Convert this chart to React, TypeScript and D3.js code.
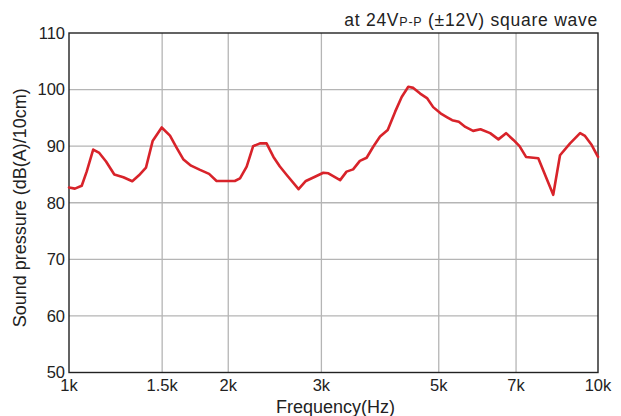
import React from "react";
import * as d3 from "d3";

const freqs = [
  1000, 1026, 1057, 1080, 1111, 1141, 1175, 1218, 1267, 1317, 1356, 1398, 1439, 1497,
  1552, 1598, 1644, 1701, 1769, 1840, 1901, 2058, 2105, 2167, 2229, 2296, 2363, 2435,
  2504, 2580, 2716, 2804, 2917, 3025, 3093, 3255, 3347, 3444, 3547, 3653, 3759, 3873,
  4004, 4136, 4255, 4379, 4476, 4611, 4750, 4880, 5039, 5187, 5301, 5456, 5614, 5806,
  5996, 6253, 6483, 6702, 6920, 7106, 7310, 7711, 8229, 8476, 8855, 9250, 9450, 9730, 10000,
];
const spl = [
  82.7, 82.5, 83.0, 85.5, 89.4, 88.8, 87.3, 85.0, 84.5, 83.8, 84.85, 86.2, 90.9, 93.3,
  91.85, 89.7, 87.7, 86.55, 85.8, 85.1, 83.85, 83.85, 84.3, 86.4, 90.0, 90.5, 90.5, 88.1,
  86.4, 84.9, 82.4, 83.85, 84.6, 85.3, 85.2, 84.0, 85.5, 85.9, 87.4, 87.95, 89.9, 91.7,
  92.85, 96.1, 98.7, 100.5, 100.3, 99.3, 98.5, 96.9, 95.8, 95.1, 94.6, 94.3, 93.4, 92.7,
  93.0, 92.3, 91.2, 92.3, 91.1, 90.0, 88.1, 87.85, 81.4, 88.4, 90.5, 92.3, 91.8, 90.2, 88.1,
];
const xTicks = [1000, 1500, 2000, 3000, 5000, 7000, 10000];
const xTickLabels = ["1k", "1.5k", "2k", "3k", "5k", "7k", "10k"];
const yTicks = [50, 60, 70, 80, 90, 100, 110];

export default function App() {
  const W = 621, H = 416;
  const L = 69, R = 598, T = 33, B = 372.5;
  const x = d3.scaleLog().domain([1000, 10000]).range([L, R]);
  const y = d3.scaleLinear().domain([50, 110]).range([B, T]);
  const pts: [number, number][] = freqs.map((f, i) => [f, spl[i]]);
  const line = d3.line<[number, number]>().x(d => x(d[0])).y(d => y(d[1]));
  const font = "'Liberation Sans', Arial, Helvetica, sans-serif";
  const txt = "#222";
  return (
    <svg width={W} height={H} style={{ position: "absolute", left: 0, top: 0, background: "#fff" }} fontFamily={font}>
      {yTicks.slice(1, -1).map(v => (
        <line key={"gy" + v} x1={L} x2={R} y1={y(v)} y2={y(v)} stroke="#b5b5b5" strokeWidth={1.3} />
      ))}
      {xTicks.slice(1, -1).map(v => (
        <line key={"gx" + v} x1={x(v)} x2={x(v)} y1={T} y2={B} stroke="#b5b5b5" strokeWidth={1.3} />
      ))}
      <rect x={L} y={T} width={R - L} height={B - T} fill="none" stroke="#222" strokeWidth={1.4} />
      <path d={line(pts) || ""} fill="none" stroke="#d8232a" strokeWidth={2.6} strokeLinejoin="round" strokeLinecap="round" />
      {yTicks.map(v => (
        <text key={"ty" + v} x={L - 4} y={y(v)} dy="0.35em" textAnchor="end" fontSize={16.5} fill={txt}>{v}</text>
      ))}
      {xTicks.map((v, i) => (
        <text key={"tx" + v} x={x(v)} y={391} textAnchor="middle" fontSize={16.5} fill={txt}>{xTickLabels[i]}</text>
      ))}
      <text x={(L + R) / 2 + 2} y={413} textAnchor="middle" fontSize={18} fill={txt}>Frequency(Hz)</text>
      <text transform={`translate(26,${(T + B) / 2 + 5}) rotate(-90)`} textAnchor="middle" fontSize={18} fill={txt}>Sound pressure (dB(A)/10cm)</text>
      <text x={R} y={25.5} textAnchor="end" fontSize={17.5} letterSpacing={0.75} fill={txt}>
        at 24V<tspan fontSize={12.5}>P-P</tspan> (±12V) square wave
      </text>
    </svg>
  );
}
